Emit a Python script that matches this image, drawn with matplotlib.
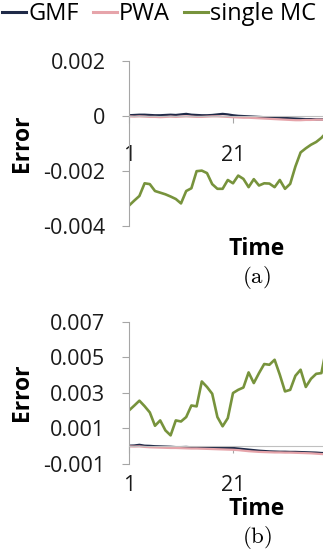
import numpy as np
import matplotlib.pyplot as plt
from matplotlib.lines import Line2D

plt.rcParams['font.family'] = ['Open Sans', 'DejaVu Sans']
plt.rcParams['axes.unicode_minus'] = False
plt.rcParams['mathtext.fontset'] = 'cm'

# time steps
t = np.arange(1, 40)

# panel (a)
gmf_a = [0.00002, 0.00003, 0.00004, 0.00004, 0.00003, 0.00002, 0.00002, 0.00003, 0.00004, 0.00003,
         0.00005, 0.00007, 0.00004, 0.00003, 0.00002, 0.00002, 0.00003, 0.00005, 0.00007, 0.00005,
         0.00002, 0.0, -0.00001, -0.00002, -0.00003, -0.00004, -0.00005, -0.00006, -0.00006, -0.00007,
         -0.00008, -0.00009, -0.0001, -0.00011, -0.00012, -0.00012, -0.00013, -0.00013, -0.00013]
pwa_a = [-0.00002, -0.00003, -0.00002, -0.00003, -0.00004, -0.00004, -0.00005, -0.00004, -0.00003, -0.00004,
         -0.00003, -0.00002, -0.00003, -0.00004, -0.00004, -0.00003, -0.00002, -0.00002, -0.00003, -0.00004,
         -0.00005, -0.00006, -0.00007, -0.00007, -0.00008, -0.00009, -0.0001, -0.00011, -0.00012, -0.00013,
         -0.00014, -0.00015, -0.00016, -0.00016, -0.00015, -0.00015, -0.00014, -0.00014, -0.00014]
mc_a = [-0.00326, -0.00308, -0.00291, -0.00245, -0.00248, -0.00273, -0.00279, -0.00285, -0.00293, -0.00302,
        -0.00318, -0.00273, -0.00263, -0.00201, -0.00199, -0.00208, -0.00248, -0.00265, -0.00265, -0.00233,
        -0.00245, -0.00217, -0.00229, -0.00259, -0.00230, -0.00253, -0.00245, -0.00246, -0.00259, -0.00233,
        -0.00265, -0.00247, -0.00184, -0.00133, -0.00118, -0.00105, -0.00095, -0.00080, -0.00060]

# panel (b)
gmf_b = [0.00003, 0.00004, 0.00008, 0.00003, 0.00002, 0.0, -0.00001, -0.00002, -0.00003, -0.00005,
         -0.00005, -0.00004, -0.00006, -0.00007, -0.00008, -0.00008, -0.00009, -0.0001, -0.0001, -0.0001,
         -0.0001, -0.00013, -0.00016, -0.00019, -0.00022, -0.00025, -0.00027, -0.00029, -0.0003, -0.00031,
         -0.00031, -0.00032, -0.00032, -0.00033, -0.00034, -0.00035, -0.00036, -0.00038, -0.00039]
pwa_b = [-0.00001, -0.00002, -0.00001, -0.00004, -0.00006, -0.00007, -0.00008, -0.00009, -0.0001, -0.0001,
         -0.00011, -0.00012, -0.00013, -0.00013, -0.00014, -0.00015, -0.00016, -0.00017, -0.00018, -0.00019,
         -0.0002, -0.00022, -0.00025, -0.00028, -0.0003, -0.00032, -0.00033, -0.00034, -0.00035, -0.00035,
         -0.00036, -0.00036, -0.00037, -0.00038, -0.00039, -0.0004, -0.00042, -0.00044, -0.00045]
mc_b = [0.00201, 0.00228, 0.00256, 0.00225, 0.00190, 0.00115, 0.00145, 0.00089, 0.00061, 0.00145,
        0.00139, 0.00164, 0.00229, 0.00224, 0.00364, 0.00333, 0.00295, 0.00164, 0.00112, 0.00158,
        0.00299, 0.00317, 0.00330, 0.00415, 0.00355, 0.00411, 0.00462, 0.00458, 0.00486, 0.00402,
        0.00308, 0.00317, 0.00396, 0.00430, 0.00333, 0.00379, 0.00407, 0.00411, 0.00560]

names = ["GMF", "PWA", "single MC"]
colors = ["#1f2a48", "#e6a4aa", "#77933c"]

W, H = 323, 554
fig = plt.figure(figsize=(W / 100, H / 100), dpi=100)

def px_axes(left, top, right, bottom):
    return fig.add_axes([left / W, 1 - bottom / H, (right - left) / W, (bottom - top) / H])

def style(ax, ylim, yticks, yfmt, label_y):
    ax.set_xlim(1, 1 + 194 / 5.2)
    ax.set_ylim(*ylim)
    ax.set_yticks(yticks)
    ax.set_yticklabels([yfmt.format(v) if v != 0 else "0" for v in yticks])
    ax.set_xticks([1, 21])
    for s in ['top', 'right']:
        ax.spines[s].set_visible(False)
    ax.spines['left'].set_color('#a6a6a6')
    ax.spines['bottom'].set_position(('data', 0))
    ax.spines['bottom'].set_color('#c0c0c0')
    ax.tick_params(axis='y', length=5, color='#a6a6a6', pad=12, labelsize=15.5, labelcolor='#1a1a1a')
    ax.tick_params(axis='x', length=5, color='#a6a6a6', pad=16, labelsize=15.5, labelcolor='#1a1a1a')
    ax.set_xlabel("Time", fontsize=16.5, fontweight='bold')
    ax.xaxis.set_label_coords(0.658, label_y)
    ax.xaxis.label.set_va('center')
    ax.set_ylabel("Error", fontsize=16.5, fontweight='bold')
    ax.yaxis.set_label_coords(-0.552, 0.502)
    ax.yaxis.label.set_va('center')

ax1 = px_axes(129, 60.7, 323, 226)
ax1.plot(t, gmf_a, color=colors[0], lw=1.6)
ax1.plot(t, pwa_a, color=colors[1], lw=1.6)
ax1.plot(t, mc_a, color=colors[2], lw=1.9)
style(ax1, (-0.004, 0.002), [-0.004, -0.002, 0, 0.002], "{:.3f}", -0.139)

ax2 = px_axes(129, 321.7, 323, 464)
ax2.plot(t, gmf_b, color=colors[0], lw=1.6)
ax2.plot(t, pwa_b, color=colors[1], lw=1.6)
ax2.plot(t, mc_b, color=colors[2], lw=1.9)
style(ax2, (-0.001, 0.007), [-0.001, 0.001, 0.003, 0.005, 0.007], "{:.3f}", -0.316)

fig.text(256.7 / W, 1 - 277.5 / H, r"$\mathrm{(a)}$", ha='center', va='center', fontsize=16.5)
fig.text(256.7 / W, 1 - 537.5 / H, r"$\mathrm{(b)}$", ha='center', va='center', fontsize=16.5)

handles = [Line2D([], [], color=c, lw=2.2) for c in colors]
fig.legend(handles, names, loc='center left', bbox_to_anchor=(0.0, 1 - 14 / H), ncol=3,
           frameon=False, fontsize=17, handlelength=1.0, handletextpad=0.1,
           columnspacing=0.6, borderaxespad=0, borderpad=0.1)

fig.savefig("out.png", dpi=100)
